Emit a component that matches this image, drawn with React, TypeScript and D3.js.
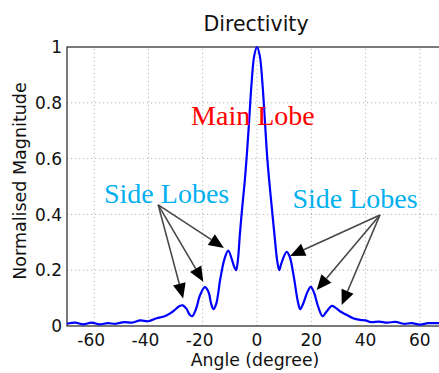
import * as d3 from 'd3';

// directivity pattern
const angles = [
  -70, -67, -64, -61, -58, -55, -52, -49, -46, -43, -40, -37, -34, -32, -30, -28.5, -27.3, -26, -24.8, -23.9,
  -22.5, -21, -19.2, -17.8, -16.9, -16, -15, -13.5, -12, -10.6, -9.3, -8.5, -7.7, -7, -6.3, -5.3, -4.5, -3.7,
  -3, -2, -1, 0, 1, 2, 3, 3.8, 4.7, 5.5, 6.5, 7.5, 8.2, 9, 10.9, 12, 13.5, 15, 15.9, 17, 18.5, 19.8, 21, 22.5,
  24.2, 25.5, 27.6, 29, 31, 33, 35.4, 38, 40, 42, 45, 48, 51, 54, 57, 60, 63, 66, 70,
];
const magnitude = [
  0.008, 0.012, 0.006, 0.012, 0.006, 0.01, 0.008, 0.014, 0.012, 0.02, 0.017, 0.028, 0.035, 0.045, 0.06, 0.072, 0.074, 0.062, 0.04, 0.035,
  0.06, 0.11, 0.139, 0.12, 0.08, 0.06, 0.08, 0.17, 0.24, 0.27, 0.24, 0.215, 0.2, 0.24, 0.33, 0.44, 0.52, 0.62,
  0.72, 0.87, 0.97, 1.0, 0.97, 0.87, 0.72, 0.6, 0.5, 0.42, 0.32, 0.23, 0.2, 0.225, 0.266, 0.25, 0.18, 0.09, 0.06, 0.08, 0.12, 0.14, 0.12, 0.07,
  0.035, 0.05, 0.072, 0.065, 0.05, 0.04, 0.028, 0.022, 0.02, 0.014, 0.016, 0.012, 0.015, 0.008, 0.01, 0.005, 0.01, 0.01, 0.012,
];

const xTicks = [-60, -40, -20, 0, 20, 40, 60];
const yTicks = [0, 0.2, 0.4, 0.6, 0.8, 1];

// annotation anchors in data units: [angle, magnitude]
const leftOrigin: [number, number] = [-36.4, 0.434];
const leftTips: [number, number][] = [[-12.2, 0.28], [-19.8, 0.159], [-27.2, 0.099]];
const rightOrigin: [number, number] = [45.3, 0.398];
const rightTips: [number, number][] = [[12.2, 0.251], [22.0, 0.129], [31.2, 0.075]];

const W = 439;
const H = 373;
const sans = 'DejaVu Sans, Arial, sans-serif';
const serif = 'Liberation Serif, Times New Roman, serif';

const App = () => {
  const x = d3.scaleLinear().domain([-70, 70]).range([67, 447]);
  const y = d3.scaleLinear().domain([0, 1]).range([326, 47]);

  const pts = angles.map((a, i) => [a, magnitude[i]] as [number, number]);
  const line = d3.line<[number, number]>()
    .x(d => x(d[0]))
    .y(d => y(d[1]))
    .curve(d3.curveCatmullRom.alpha(0.5));

  const arrow = (o: [number, number], t: [number, number], key: string) => {
    const x0 = x(o[0]), y0 = y(o[1]);
    const x1 = x(t[0]), y1 = y(t[1]);
    const len = Math.hypot(x1 - x0, y1 - y0);
    const ux = (x1 - x0) / len, uy = (y1 - y0) / len;
    const hl = 15, hw = 6.5;
    const bx = x1 - ux * hl, by = y1 - uy * hl;
    const head = [
      [x1, y1],
      [bx - uy * hw, by + ux * hw],
      [bx + uy * hw, by - ux * hw],
    ].map(p => p.join(',')).join(' ');
    return (
      <g key={key}>
        <line x1={x0} y1={y0} x2={bx} y2={by} stroke="#474747" strokeWidth={1.6} />
        <polygon points={head} fill="#000" />
      </g>
    );
  };

  return (
    <svg width={W} height={H} style={{ position: 'absolute', left: 0, top: 0, background: '#fff' }}>
      {/* grid */}
      {xTicks.map(t => (
        <line key={'gx' + t} x1={x(t)} x2={x(t)} y1={y(0)} y2={y(1)} stroke="#b5b5b5" strokeWidth={1} strokeDasharray="1.2,2.8" />
      ))}
      {yTicks.slice(1, -1).map(t => (
        <line key={'gy' + t} x1={x(-70)} x2={x(70)} y1={y(t)} y2={y(t)} stroke="#b5b5b5" strokeWidth={1} strokeDasharray="1.2,2.8" />
      ))}

      {/* box */}
      <rect x={x(-70)} y={y(1)} width={x(70) - x(-70)} height={y(0) - y(1)} fill="none" stroke="#222" strokeWidth={1.2} />

      {/* curve */}
      <path d={line(pts) || ''} fill="none" stroke="#0000ff" strokeWidth={2.2} strokeLinejoin="round" />

      {/* tick labels */}
      {xTicks.map(t => (
        <text key={'tx' + t} x={x(t) - (t < 0 ? 3 : 0)} y={346} textAnchor="middle" fontFamily={sans} fontSize={17} fill="#111">
          {t}
        </text>
      ))}
      {yTicks.map(t => (
        <text key={'ty' + t} x={62} y={y(t)} dy="0.36em" textAnchor="end" fontFamily={sans} fontSize={17} fill="#111">
          {t}
        </text>
      ))}

      {/* titles */}
      <text x={256} y={30.5} textAnchor="middle" fontFamily={sans} fontSize={20.5} fill="#111">Directivity</text>
      <text x={255} y={366} textAnchor="middle" fontFamily={sans} fontSize={17.3} fill="#111">Angle (degree)</text>
      <text transform="translate(26,181) rotate(-90)" textAnchor="middle" fontFamily={sans} fontSize={17.5} fill="#111">
        Normalised Magnitude
      </text>

      {/* annotations */}
      {leftTips.map((t, i) => arrow(leftOrigin, t, 'la' + i))}
      {rightTips.map((t, i) => arrow(rightOrigin, t, 'ra' + i))}
      <text x={x(-1.5)} y={y(0.72)} textAnchor="middle" fontFamily={serif} fontSize={28} fill="#ff0000">Main Lobe</text>
      <text x={x(-33.3)} y={y(0.442)} textAnchor="middle" fontFamily={serif} fontSize={28} fill="#00b0f0">Side Lobes</text>
      <text x={x(36.1)} y={y(0.423)} textAnchor="middle" fontFamily={serif} fontSize={28} fill="#00b0f0">Side Lobes</text>
    </svg>
  );
};

export default App;
